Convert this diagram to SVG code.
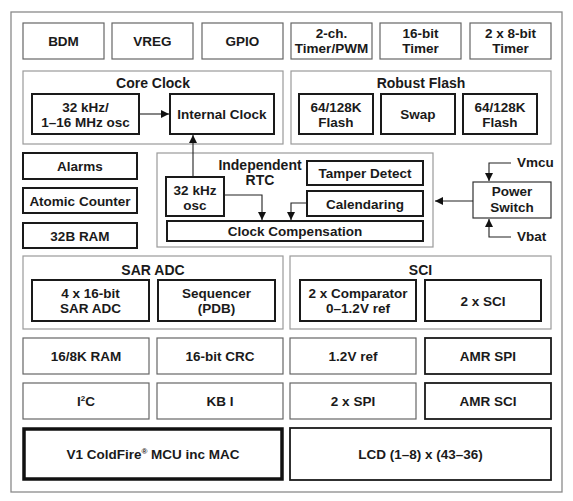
<svg xmlns="http://www.w3.org/2000/svg" width="573" height="501" viewBox="0 0 573 501">
<defs>
<marker id="ah" viewBox="0 0 8 8" refX="8" refY="4" markerWidth="8" markerHeight="8" markerUnits="userSpaceOnUse" orient="auto">
<path d="M0,0 L8,4 L0,8 z" fill="#111"/>
</marker>
</defs>
<style>
.outer{fill:#fff;stroke:#8a8a8a;stroke-width:1.3}
.grp{fill:#fff;stroke:#9a9a9a;stroke-width:1.2}
.thin{fill:#fff;stroke:#666;stroke-width:1.2}
.bold{fill:#fff;stroke:#1a1a1a;stroke-width:2}
.med{fill:#fff;stroke:#1a1a1a;stroke-width:1.8}
.thick{fill:#fff;stroke:#111;stroke-width:3.5}
text{font-family:"Liberation Sans",Arial,Helvetica,sans-serif;font-weight:bold;font-size:13.5px;fill:#1a1a1a;text-anchor:middle}
.ttl{font-size:14px}
.lft{text-anchor:start}
.sup{font-size:8px}
.wire{fill:none;stroke:#222;stroke-width:1.1}
</style>
<rect width="573" height="501" fill="#fff"/>
<rect class="outer" x="11" y="12" width="551" height="480"/>

<g id="bdm"><rect class="thin" x="23" y="23" width="81" height="36"/><text x="63.5" y="46">BDM</text></g>
<g id="vreg"><rect class="thin" x="112" y="23" width="81" height="36"/><text x="152.5" y="46">VREG</text></g>
<g id="gpio"><rect class="thin" x="202" y="23" width="81" height="36"/><text x="242.5" y="46">GPIO</text></g>
<g id="timer-pwm"><rect class="thin" x="291" y="23" width="81" height="36"/><text x="331.5" y="38">2-ch.</text><text x="331.5" y="53">Timer/PWM</text></g>
<g id="timer16"><rect class="thin" x="380" y="23" width="81" height="36"/><text x="420.5" y="38">16-bit</text><text x="420.5" y="53">Timer</text></g>
<g id="timer8"><rect class="thin" x="470" y="23" width="81" height="36"/><text x="510.5" y="38">2 x 8-bit</text><text x="510.5" y="53">Timer</text></g>

<g id="core-clock"><rect class="grp" x="23" y="71" width="260" height="73"/><text class="ttl" x="153" y="88">Core Clock</text></g>
<g id="osc-main"><rect class="bold" x="32" y="94" width="107" height="40"/><text x="85.5" y="112">32 kHz/</text><text x="85.5" y="127">1–16 MHz osc</text></g>
<g id="internal-clock"><rect class="bold" x="170" y="94" width="104" height="40"/><text x="222" y="119">Internal Clock</text></g>

<g id="robust-flash"><rect class="grp" x="291" y="71" width="260" height="73"/><text class="ttl" x="421" y="88">Robust Flash</text></g>
<g id="flash1"><rect class="bold" x="299" y="94" width="74" height="40"/><text x="336" y="112">64/128K</text><text x="336" y="127">Flash</text></g>
<g id="swap"><rect class="bold" x="381" y="94" width="74" height="40"/><text x="418" y="119">Swap</text></g>
<g id="flash2"><rect class="bold" x="463" y="94" width="74" height="40"/><text x="500" y="112">64/128K</text><text x="500" y="127">Flash</text></g>

<g id="alarms"><rect class="bold" x="23" y="153" width="114" height="26"/><text x="80" y="171">Alarms</text></g>
<g id="atomic-counter"><rect class="bold" x="23" y="188" width="114" height="25"/><text x="80" y="205.5">Atomic Counter</text></g>
<g id="ram32"><rect class="bold" x="23" y="223" width="114" height="25"/><text x="80" y="240.5">32B RAM</text></g>

<g id="rtc"><rect class="grp" x="157" y="153" width="276" height="94"/><text class="ttl" x="260" y="170">Independent</text><text class="ttl" x="260" y="185">RTC</text></g>
<g id="osc-rtc"><rect class="bold" x="166" y="177" width="58" height="39"/><text x="195" y="195">32 kHz</text><text x="195" y="210">osc</text></g>
<g id="tamper"><rect class="bold" x="307" y="161" width="116" height="24"/><text x="365" y="178">Tamper Detect</text></g>
<g id="calendaring"><rect class="bold" x="307" y="191" width="116" height="25"/><text x="365" y="208.5">Calendaring</text></g>
<g id="clock-comp"><rect class="bold" x="167" y="221" width="256" height="20"/><text x="295" y="236">Clock Compensation</text></g>

<g id="power-switch"><rect class="thin" style="stroke:#333" x="473" y="182" width="78" height="36"/><text x="512" y="196">Power</text><text x="512" y="212">Switch</text></g>
<g id="vmcu"><text class="lft" x="517" y="167">Vmcu</text></g>
<g id="vbat"><text class="lft" x="517" y="241">Vbat</text></g>

<g id="sar-adc"><rect class="grp" x="23" y="256" width="260" height="73"/><text class="ttl" x="153" y="275">SAR ADC</text></g>
<g id="adc16"><rect class="bold" x="32" y="280" width="117" height="41"/><text x="90.5" y="298">4 x 16-bit</text><text x="90.5" y="313">SAR ADC</text></g>
<g id="sequencer"><rect class="bold" x="158" y="280" width="117" height="41"/><text x="216.5" y="298">Sequencer</text><text x="216.5" y="313">(PDB)</text></g>

<g id="sci"><rect class="grp" x="290" y="256" width="261" height="73"/><text class="ttl" x="420.5" y="275">SCI</text></g>
<g id="comparator"><rect class="bold" x="300" y="280" width="116" height="41"/><text x="358" y="298">2 x Comparator</text><text x="358" y="313">0–1.2V ref</text></g>
<g id="sci2"><rect class="bold" x="425" y="280" width="116" height="41"/><text x="483" y="305.5">2 x SCI</text></g>

<g id="ram16"><rect class="thin" x="23" y="338" width="126" height="36"/><text x="86" y="361">16/8K RAM</text></g>
<g id="crc"><rect class="thin" x="157" y="338" width="126" height="36"/><text x="220" y="361">16-bit CRC</text></g>
<g id="ref12"><rect class="thin" x="290" y="338" width="126" height="36"/><text x="353" y="361">1.2V ref</text></g>
<g id="amr-spi"><rect class="med" x="425" y="338" width="126" height="36"/><text x="488" y="361">AMR SPI</text></g>

<g id="i2c"><rect class="thin" x="23" y="383" width="126" height="36"/><text x="86" y="406">I<tspan class="sup" dy="-5">2</tspan><tspan dy="5">C</tspan></text></g>
<g id="kbi"><rect class="thin" x="157" y="383" width="126" height="36"/><text x="220" y="406">KB I</text></g>
<g id="spi2"><rect class="thin" x="290" y="383" width="126" height="36"/><text x="353" y="406">2 x SPI</text></g>
<g id="amr-sci"><rect class="med" x="425" y="383" width="126" height="36"/><text x="488" y="406">AMR SCI</text></g>

<g id="coldfire"><rect class="thick" x="24" y="429" width="258" height="50"/><text x="153" y="459">V1 ColdFire<tspan class="sup" dy="-5">®</tspan><tspan dy="5"> MCU inc MAC</tspan></text></g>
<g id="lcd"><rect class="med" x="290" y="428" width="261" height="52"/><text x="420.5" y="459">LCD (1–8) x (43–36)</text></g>

<g id="connectors">
<path class="wire" d="M139,114 H169" marker-end="url(#ah)"/>
<path class="wire" d="M193,177 V135" marker-end="url(#ah)"/>
<path class="wire" d="M224,195 H262 V220" marker-end="url(#ah)"/>
<path class="wire" d="M307,203 H291 V220" marker-end="url(#ah)"/>
<path class="wire" d="M473,201 H435" marker-end="url(#ah)"/>
<path class="wire" d="M511,163 H489 V181" marker-end="url(#ah)"/>
<path class="wire" d="M511,237 H489 V219" marker-end="url(#ah)"/>
</g>
</svg>
